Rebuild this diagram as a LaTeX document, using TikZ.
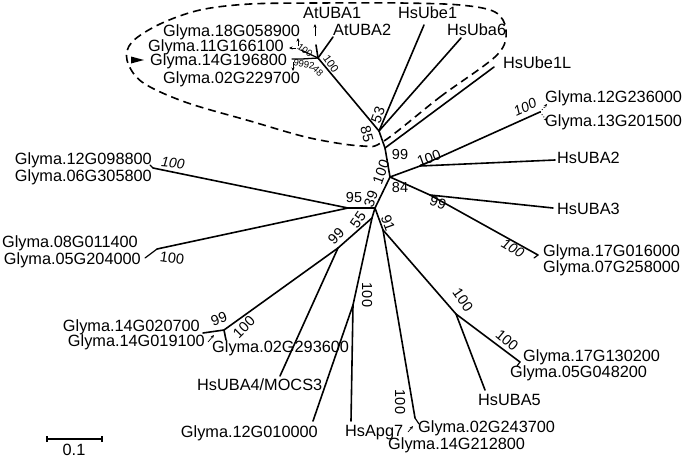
\documentclass[tikz,border=0pt]{standalone}
\usepackage{fontspec}
\setmainfont{Liberation Sans}
\usetikzlibrary{arrows.meta}
\begin{document}
\begin{tikzpicture}[x=1pt,y=-1pt,
  br/.style={line width=1.6pt, line cap=round},
  lab/.style={inner sep=0pt, font=\fontsize{16.3}{17}\selectfont},
  bs/.style={inner sep=0pt, font=\fontsize{14.5}{15}\selectfont},
  bsi/.style={inner sep=0pt, font=\fontsize{14}{15}\selectfont\itshape},
  smallbs/.style={inner sep=0pt, font=\fontsize{9.5}{10}\selectfont},
  midbs/.style={inner sep=0pt, font=\fontsize{11}{12}\selectfont},
  sarr/.style={line width=0.7pt, -{Stealth[length=3.5pt,width=3pt]}},
  darr/.style={line width=0.9pt, dotted, -{Stealth[length=3.5pt,width=3pt]}},
  hull/.style={line width=1.6pt, dash pattern=on 8pt off 5pt}]
\useasboundingbox (0,0) rectangle (685,458);
% internal nodes
\coordinate (A) at (379,131);
\coordinate (B) at (385,148);
\coordinate (C) at (390,177);
\coordinate (D) at (420,166);
\coordinate (E) at (430,195);
\coordinate (F) at (375,208);
\coordinate (G) at (348,208);
\coordinate (H) at (372,218);
\coordinate (J) at (383,230);
\coordinate (K) at (456,314);
\coordinate (M) at (353,305);
\coordinate (Q) at (338,248);
\coordinate (P) at (224,330);
\coordinate (N0) at (318,58);
\coordinate (N1) at (301,50);
\coordinate (N2) at (302,59);
% tips
\coordinate (tUbe1) at (424,25);
\coordinate (tUba6) at (461,38);
\coordinate (tUbe1L) at (494,67);
\coordinate (tAt2) at (333,37);
\coordinate (tAt1) at (316,45);
\coordinate (t14G196) at (292,59);
\coordinate (t12G236) at (540,112);
\coordinate (tUBA2) at (555,160);
\coordinate (tUBA3) at (553,208);
\coordinate (t17G016) at (538,255);
\coordinate (t12G098) at (153,168);
\coordinate (t08G) at (157,249);
\coordinate (t14G) at (203,333);
\coordinate (t02G293) at (226,340);
\coordinate (tUBA4) at (280,376);
\coordinate (t12G010) at (313,421);
\coordinate (tApg7) at (351,421);
\coordinate (t02G243) at (415,418);
\coordinate (tUBA5) at (485,390);
\coordinate (t17G130) at (520,362);
% branches
\draw[br] (A) -- (B) -- (C) -- (F) -- (G) -- (t12G098);
\draw[br] (G) -- (t08G);
\draw[br] (F) -- (H) -- (Q) -- (tUBA4);
\draw[br] (Q) -- (P) -- (t14G);
\draw[br] (P) -- (t02G293);
\draw[br] (H) -- (M) -- (t12G010);
\draw[br] (M) -- (tApg7);
\draw[br] (F) -- (J) -- (t02G243);
\draw[br] (J) -- (K) -- (tUBA5);
\draw[br] (K) -- (t17G130);
\draw[br] (C) -- (D) -- (t12G236);
\draw[br] (D) -- (tUBA2);
\draw[br] (C) -- (E) -- (tUBA3);
\draw[br] (E) -- (t17G016);
\draw[br] (B) -- (tUbe1L);
\draw[br] (A) -- (tUbe1);
\draw[br] (A) -- (tUba6);
\draw[br] (A) -- (N0) -- (tAt2);
\draw[br] (N0) -- (tAt1);
\draw[br, line width=1.3pt] (N0) -- (N1);
\draw[br, line width=1.3pt] (N0) -- (N2) -- (t14G196);
% small forks at collapsed tips
\draw[br, line width=1.2pt] (t12G098) -- (150,165);
\draw[br, line width=1.2pt] (t08G) -- (145,258);
\draw[br, line width=1.2pt] (t17G016) -- (534,258);
\draw[br, line width=1.2pt] (t02G243) -- (419,424);
\draw[br, line width=1.2pt] (t17G130) -- (517,366);
% small arrows to labels
\draw[sarr] (315,36) -- (315,24);
\draw[sarr] (298,46) -- (298,38);
\draw[sarr] (296,48) -- (289,48);
\draw[sarr] (293,62) -- (293,71);
\draw[darr] (t12G236) -- (547,104);
\draw[darr] (t12G236) -- (547,121);
\draw[sarr] (208,342) -- (214,335);
\draw[sarr] (408,432) -- (413,426);
% hull
\draw[hull] plot[smooth cycle, tension=0.55] coordinates {(384,141) (440,97) (497,55) (506,30) (495,12) (460,5) (400,3) (320,3) (250,4) (200,10) (160,24) (132,42) (127,60) (142,82) (185,102) (250,121) (310,138) (362,146)};
\fill (131,56.5) -- (144,60) -- (131,63.5) -- cycle;
% leaf labels
\node[lab, anchor=west] (l18G058) at (163,32) {Glyma.18G058900};
\node[lab, anchor=west] (l11G166) at (148,47) {Glyma.11G166100};
\node[lab, anchor=west] (l14G196) at (150,61) {Glyma.14G196800};
\node[lab, anchor=west] (l02G229) at (163,79) {Glyma.02G229700};
\node[lab, anchor=west] (lAt1) at (303,13) {AtUBA1};
\node[lab, anchor=west] (lAt2) at (333,30) {AtUBA2};
\node[lab, anchor=west] (lUbe1) at (398,13) {HsUbe1};
\node[lab, anchor=west] (lUba6) at (447,30) {HsUba6};
\node[lab, anchor=west] (lUbe1L) at (503,63) {HsUbe1L};
\node[lab, anchor=west] (l12G236) at (545,98) {Glyma.12G236000};
\node[lab, anchor=west] (l13G201) at (545,122) {Glyma.13G201500};
\node[lab, anchor=west] (lUBA2) at (557,158) {HsUBA2};
\node[lab, anchor=west] (lUBA3) at (557,209) {HsUBA3};
\node[lab, anchor=west] (l17G016) at (543,252) {Glyma.17G016000};
\node[lab, anchor=west] (l07G258) at (543,268) {Glyma.07G258000};
\node[lab, anchor=east] (l12G098) at (152,160) {Glyma.12G098800};
\node[lab, anchor=east] (l06G305) at (152,177) {Glyma.06G305800};
\node[lab, anchor=east] (l08G011) at (138,243) {Glyma.08G011400};
\node[lab, anchor=east] (l05G204) at (141,260) {Glyma.05G204000};
\node[lab, anchor=east] (l14G020) at (200,327) {Glyma.14G020700};
\node[lab, anchor=east] (l14G019) at (205,342) {Glyma.14G019100};
\node[lab, anchor=west] (l02G293) at (212,348) {Glyma.02G293600};
\node[lab, anchor=west] (lUBA4) at (197,385) {HsUBA4/MOCS3};
\node[lab, anchor=east] (l12G010) at (318,433) {Glyma.12G010000};
\node[lab, anchor=west] (lApg7) at (345,433) {HsApg7};
\node[lab, anchor=west] (l02G243) at (418,428) {Glyma.02G243700};
\node[lab, anchor=west] (l14G212) at (388,445) {Glyma.14G212800};
\node[lab, anchor=west] (lUBA5) at (478,400) {HsUBA5};
\node[lab, anchor=west] (l17G130) at (523,357) {Glyma.17G130200};
\node[lab, anchor=west] (l05G048) at (510,373) {Glyma.05G048200};
% bootstrap values
\node[smallbs, rotate=-35] (b1) at (305,50) {100};
\node[smallbs, rotate=-10] (b2) at (304,64) {9992};
\node[smallbs, rotate=-45] (b3) at (318,71) {48};
\node[midbs, rotate=-55] (b4) at (331,64) {100};
\node[bs, rotate=70] (b5) at (378,115) {53};
\node[bs, rotate=-75] (b6) at (367,134) {85};
\node[bs] (b7) at (400,155) {99};
\node[bs, rotate=20] (b8) at (429,158) {100};
\node[bs] (b9) at (400,188) {84};
\node[bs, rotate=-20] (b10) at (438,203) {99};
\node[bs, rotate=70] (b11) at (381,172) {100};
\node[bs, rotate=70] (b12) at (371,199) {39};
\node[bs] (b13) at (354,198) {95};
\node[bs, rotate=55] (b14) at (358,220) {55};
\node[bs, rotate=45] (b15) at (336,236) {99};
\node[bs, rotate=-70] (b16) at (388,223) {91};
\node[bsi, rotate=-5] (b17) at (173,163) {100};
\node[bs, rotate=-8] (b18) at (172,258) {100};
\node[bs, rotate=20] (b19) at (219,319) {99};
\node[bs, rotate=45] (b20) at (244,327) {100};
\node[bs, rotate=-90] (b21) at (367,295) {100};
\node[bs, rotate=-90] (b22) at (400,402) {100};
\node[bs, rotate=-55] (b23) at (463,300) {100};
\node[bs, rotate=-40] (b24) at (507,340) {100};
\node[bsi, rotate=25] (b25) at (525,107) {100};
\node[bsi, rotate=-30] (b26) at (513,248) {100};
% scale bar
\coordinate (s1) at (47,439);
\coordinate (s2) at (102,439);
\draw[line width=1.6pt] (s1) -- (s2);
\draw[line width=1.6pt] ([yshift=-3pt]s1) -- ([yshift=3pt]s1);
\draw[line width=1.6pt] ([yshift=-3pt]s2) -- ([yshift=3pt]s2);
\node[lab] (sl) at (74,450) {0.1};
\end{tikzpicture}
\end{document}
